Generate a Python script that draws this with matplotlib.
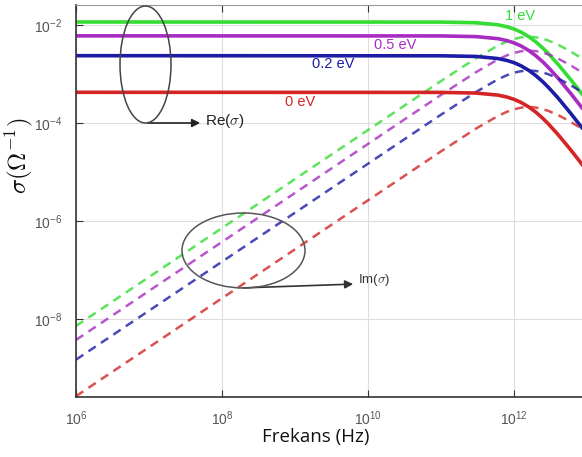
import matplotlib.pyplot as plt
from matplotlib.patches import Ellipse

plt.rcParams["font.family"] = ["Liberation Sans", "DejaVu Sans"]
plt.rcParams["mathtext.fontset"] = "custom"
plt.rcParams["mathtext.rm"] = "Liberation Sans"
plt.rcParams["mathtext.it"] = "Liberation Sans:italic"
plt.rcParams["mathtext.bf"] = "Liberation Sans:bold"

freq = [1e6, 1e11, 3e11, 6e11, 8e11, 1e12, 1.25e12, 1.6e12, 2e12, 2.5e12, 3e12, 4e12, 6e12, 1e13]

# Re(sigma) curves
re_1ev = [0.0117, 0.01165, 0.0113, 0.01026, 0.00936, 0.00841, 0.00727, 0.00585, 0.00457, 0.0034, 0.00259, 0.00161, 0.000777, 0.000293]
re_05ev = [0.0061, 0.00608, 0.00589, 0.00535, 0.00488, 0.00439, 0.00379, 0.00305, 0.00238, 0.00178, 0.00135, 0.000842, 0.000405, 0.000153]
re_02ev = [0.0024, 0.00239, 0.00232, 0.00210, 0.00192, 0.00173, 0.00149, 0.0012, 0.000936, 0.000698, 0.000531, 0.000331, 0.000159, 6.0e-5]
re_0ev = [4.3e-4, 4.28e-4, 4.15e-4, 3.77e-4, 3.44e-4, 3.09e-4, 2.67e-4, 2.15e-4, 1.68e-4, 1.25e-4, 9.52e-5, 5.93e-5, 2.86e-5, 1.08e-5]

# Im(sigma) curves
im_1ev = [7.3e-9, 7.29e-4, 2.12e-3, 3.85e-3, 4.68e-3, 5.25e-3, 5.67e-3, 5.85e-3, 5.71e-3, 5.31e-3, 4.86e-3, 4.04e-3, 2.91e-3, 1.83e-3]
im_05ev = [3.8e-9, 3.80e-4, 1.10e-3, 2.01e-3, 2.44e-3, 2.74e-3, 2.96e-3, 3.05e-3, 2.98e-3, 2.77e-3, 2.53e-3, 2.10e-3, 1.52e-3, 9.5e-4]
im_02ev = [1.5e-9, 1.50e-4, 4.34e-4, 7.9e-4, 9.6e-4, 1.08e-3, 1.16e-3, 1.2e-3, 1.17e-3, 1.09e-3, 9.96e-4, 8.28e-4, 5.98e-4, 3.74e-4]
im_0ev = [2.7e-10, 2.68e-5, 7.78e-5, 1.41e-4, 1.72e-4, 1.93e-4, 2.09e-4, 2.15e-4, 2.10e-4, 1.95e-4, 1.78e-4, 1.48e-4, 1.07e-4, 6.7e-5]

labels = ["1 eV", "0.5 eV", "0.2 eV", "0 eV"]
colors = ["#33dd33", "#a82cc2", "#1c1ca6", "#d42424"]

fig = plt.figure(figsize=(5.82, 4.57), dpi=100)
ax = fig.add_axes([76 / 582, 1 - 397 / 457, 511 / 582, 392 / 457])

re_all = [re_1ev, re_05ev, re_02ev, re_0ev]
im_all = [im_1ev, im_05ev, im_02ev, im_0ev]
for re, im, c in zip(re_all, im_all, colors):
    ax.plot(freq, re, color=c, lw=2.6, solid_capstyle="butt")
    ax.plot(freq, im, color=c, lw=1.8, ls=(0, (3.5, 2.5)), alpha=0.8)

ax.set_xscale("log")
ax.set_yscale("log")
ax.set_xlim(1e6, 1e13)
ax.set_ylim(2.6e-10, 2.6e-2)
ax.set_xticks([1e6, 1e8, 1e10, 1e12])
ax.set_yticks([1e-8, 1e-6, 1e-4, 1e-2])
ax.minorticks_off()
ax.grid(True, color="#dddddd", lw=0.8)
ax.tick_params(direction="in", length=5, labelsize=10, labelcolor="#555555", color="#333333",
               top=True)
ax.tick_params(axis="x", pad=9)
ax.tick_params(axis="y", pad=10)
for s in ["left", "bottom"]:
    ax.spines[s].set_color("#333333")
    ax.spines[s].set_linewidth(1.2)
ax.spines["top"].set_color("#999999")

# curve labels
ax.text(10**12.08, 10**-1.80, labels[0], color=colors[0], fontsize=10.5, ha="center", va="center")
ax.text(10**10.37, 10**-2.41, labels[1], color=colors[1], fontsize=10.5, ha="center", va="center")
ax.text(10**9.52, 10**-2.78, labels[2], color=colors[2], fontsize=10.5, ha="center", va="center")
ax.text(10**9.07, 10**-3.57, labels[3], color=colors[3], fontsize=10.5, ha="center", va="center")

W, H = 582, 457

def fx(px):
    return px / W

def fy(py):
    return 1 - py / H

# ellipses around the two groups of curves
fig.patches.append(Ellipse((fx(145.5), fy(64.5)), 51 / W, 117 / H, transform=fig.transFigure,
                           fill=False, ec="#444444", lw=1.1))
fig.patches.append(Ellipse((fx(243.5), fy(250.5)), 123 / W, 75 / H, transform=fig.transFigure,
                           fill=False, ec="#555555", lw=1.1))
fig.text(fx(205), fy(121), r"Re($\sigma$)", fontsize=11, va="center", color="#222222",
         math_fontfamily="cm")
ax.annotate("", xy=(fx(203), fy(123)), xycoords="figure fraction",
            xytext=(fx(145), fy(123)), textcoords="figure fraction",
            arrowprops=dict(arrowstyle="-|>", color="#222222", lw=1.2, mutation_scale=12))
fig.text(fx(358), fy(280), r"Im($\sigma$)", fontsize=9.5, va="center", color="#333333",
         math_fontfamily="cm")
ax.annotate("", xy=(fx(356), fy(284)), xycoords="figure fraction",
            xytext=(fx(240), fy(288)), textcoords="figure fraction",
            arrowprops=dict(arrowstyle="-|>", color="#333333", lw=1.2, mutation_scale=12))

fig.text(fx(316), fy(437), "Frekans (Hz)", fontsize=13.5, ha="center", va="center",
         color="#111111", family="Open Sans")
fig.text(fx(19), fy(156), r"$\sigma(\Omega^{-1})$", fontsize=18, rotation=90,
         ha="center", va="center", color="#111111", math_fontfamily="cm")

fig.savefig("out.png", dpi=100)
